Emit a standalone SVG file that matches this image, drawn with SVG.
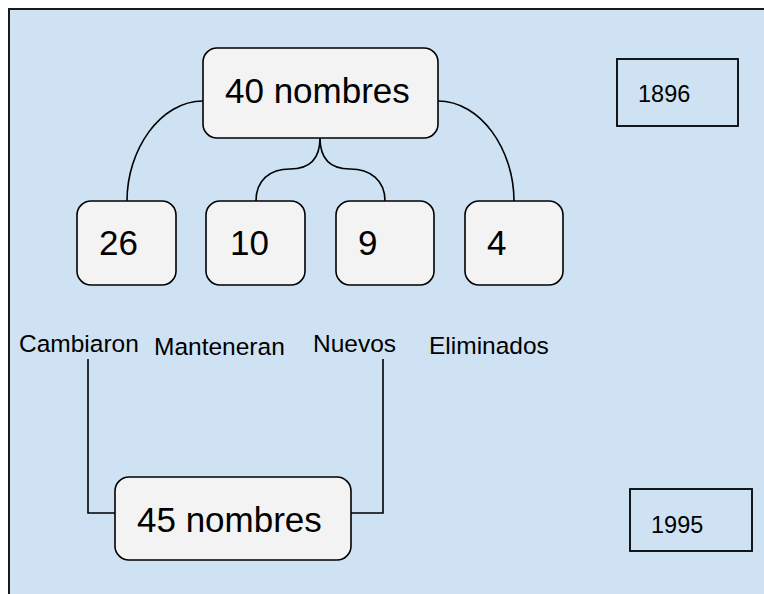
<svg xmlns="http://www.w3.org/2000/svg" width="764" height="594" viewBox="0 0 764 594">
<style>
.node{fill:#f3f3f3;stroke:#000;stroke-width:1.6}
.yr{fill:none;stroke:#000;stroke-width:1.8}
.con{fill:none;stroke:#000;stroke-width:1.6}
text{font-family:"Liberation Sans",Arial,sans-serif;fill:#000}
.big{font-size:35px}
.lbl{font-size:24.5px}
.year{font-size:23.5px}
</style>
<rect x="9" y="9" width="770" height="600" fill="#cfe2f3" stroke="#1a1a1a" stroke-width="2"/>
<g id="connectors">
<path class="con" d="M203,101 C160,101 127,150 127,201"/>
<path class="con" d="M438,101 C481,101 514,150 514,201"/>
<path class="con" d="M320,138 C320,158 310,169 290,169 C270,169 256,180 256,201"/>
<path class="con" d="M320,138 C320,158 330,169 350,169 C370,169 385,180 385,201"/>
<path class="con" d="M88,359 V513 H115"/>
<path class="con" d="M383,359 V513 H351"/>
</g>
<g id="n40">
<rect class="node" x="203" y="48" width="235" height="90" rx="14"/>
<text class="big" x="225" y="103">40 nombres</text>
</g>
<g id="y1896">
<rect class="yr" x="617" y="59" width="121" height="67"/>
<text class="year" x="638" y="102">1896</text>
</g>
<g id="n26">
<rect class="node" x="77" y="201" width="99" height="84" rx="14"/>
<text class="big" x="99" y="255">26</text>
</g>
<g id="n10">
<rect class="node" x="206" y="201" width="99" height="84" rx="14"/>
<text class="big" x="230" y="255">10</text>
</g>
<g id="n9">
<rect class="node" x="336" y="201" width="98" height="84" rx="14"/>
<text class="big" x="358" y="255">9</text>
</g>
<g id="n4">
<rect class="node" x="465" y="201" width="98" height="84" rx="14"/>
<text class="big" x="487" y="255">4</text>
</g>
<g id="labels">
<text class="lbl" x="19" y="352">Cambiaron</text>
<text class="lbl" x="154" y="355">Manteneran</text>
<text class="lbl" x="313" y="352">Nuevos</text>
<text class="lbl" x="429" y="354">Eliminados</text>
</g>
<g id="n45">
<rect class="node" x="115" y="477" width="236" height="83" rx="14"/>
<text class="big" x="137" y="532">45 nombres</text>
</g>
<g id="y1995">
<rect class="yr" x="630" y="489" width="122" height="62"/>
<text class="year" x="651" y="533">1995</text>
</g>
</svg>
